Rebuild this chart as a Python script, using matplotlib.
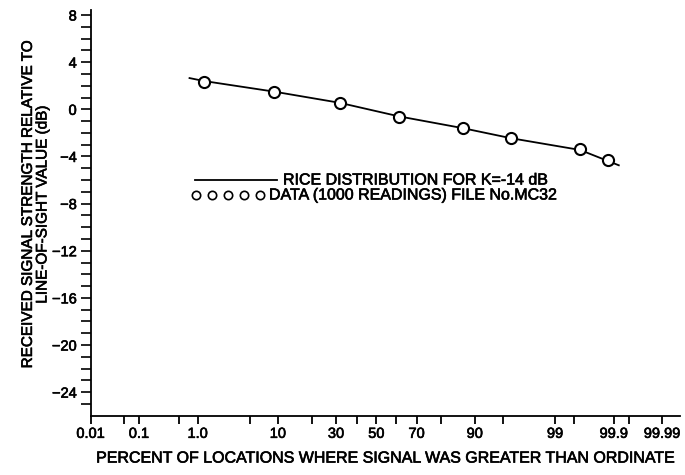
from statistics import NormalDist

import matplotlib
matplotlib.use("Agg")
import matplotlib.pyplot as plt
import matplotlib.patheffects as pe
import numpy as np

# Rice curve and measured points: percent of locations vs level in dB
rice_pct = [0.75, 1.24, 9.15, 31.7, 61.6, 87.0, 96.0, 99.6, 99.92]
rice_db = [2.65, 2.40, 1.50, 0.55, -0.60, -1.60, -2.45, -3.45, -4.75]

data_pct = [1.24, 9.15, 31.7, 61.6, 87.0, 96.0, 99.6, 99.87]
data_db = [2.34, 1.44, 0.50, -0.68, -1.62, -2.47, -3.40, -4.30]

major_pct = [0.01, 0.1, 1.0, 10, 30, 50, 70, 90, 99, 99.9, 99.99]
major_labels = ["0.01", "0.1", "1.0", "10", "30", "50", "70", "90", "99", "99.9", "99.99"]
minor_pct = [0.05, 0.5, 5, 20, 40, 60, 80, 95, 99.5, 99.95]

y_major = list(range(-24, 9, 4))
y_minor = list(range(-25, 9))

_nd = NormalDist()


def to_z(p):
    p = np.clip(np.asarray(p, dtype=float), 1e-7, 100 - 1e-7)
    return np.vectorize(lambda v: _nd.inv_cdf(v / 100.0), otypes=[float])(p)


def from_z(z):
    z = np.asarray(z, dtype=float)
    return np.vectorize(lambda v: 100.0 * _nd.cdf(v), otypes=[float])(z)


plt.rcParams["font.family"] = ["Liberation Sans", "DejaVu Sans"]
plt.rcParams["font.size"] = 10.5

# slightly heavier lettering
ink = [pe.withStroke(linewidth=0.45, foreground="black")]

fig = plt.figure(figsize=(6.85, 4.75), dpi=100)
ax = fig.add_axes([0.1324, 0.1248, 0.86, 0.8535])

# normal-probability abscissa
ax.set_xscale("function", functions=(to_z, from_z))
ax.set_xlim(0.01, float(from_z(3.95)))
ax.set_ylim(-26, 8.4)

ax.plot(rice_pct, rice_db, color="black", lw=1.3, zorder=2)
ax.plot(data_pct, data_db, ls="none", marker="o", ms=8, mfc="white",
        mec="black", mew=1.5, zorder=3)

ax.set_xticks(major_pct)
ax.set_xticklabels(major_labels)
ax.set_xticks(minor_pct, minor=True)
ax.set_yticks(y_major)
ax.set_yticks(y_minor, minor=True)

for side in ("top", "right"):
    ax.spines[side].set_visible(False)
for side in ("left", "bottom"):
    ax.spines[side].set_linewidth(1.3)

ax.tick_params(axis="x", which="both", direction="out", length=6, width=1.3, pad=2)
ax.tick_params(axis="y", which="both", direction="out", length=7, width=1.2, pad=3)
for lab in ax.get_xticklabels() + ax.get_yticklabels():
    lab.set_path_effects(ink)

ax.set_xlabel("PERCENT OF LOCATIONS WHERE SIGNAL WAS GREATER THAN ORDINATE",
              fontsize=11.5, labelpad=7, path_effects=ink)
ax.set_ylabel("RECEIVED SIGNAL STRENGTH RELATIVE TO\nLINE-OF-SIGHT VALUE (dB)",
              fontsize=11, linespacing=1.05, path_effects=ink)
ax.yaxis.set_label_coords(-0.07, 0.52)

# hand-made key
tr = fig.transFigure
fig.lines.append(plt.Line2D([195 / 685, 277 / 685], [1 - 180 / 475] * 2,
                            transform=tr, color="black", lw=1.3))
fig.text(283 / 685, 1 - 180 / 475, "RICE DISTRIBUTION FOR K=-14 dB",
         va="center", ha="left", fontsize=11.5, path_effects=ink)
for x in (196, 212, 228, 244, 260):
    fig.lines.append(plt.Line2D([x / 685], [1 - 195 / 475], transform=tr,
                                ls="none", marker="o", ms=6, mfc="white",
                                mec="black", mew=1.2))
fig.text(269 / 685, 1 - 195 / 475, "DATA (1000 READINGS) FILE No.MC32",
         va="center", ha="left", fontsize=11.5, path_effects=ink)

fig.savefig("out.png", dpi=100)
